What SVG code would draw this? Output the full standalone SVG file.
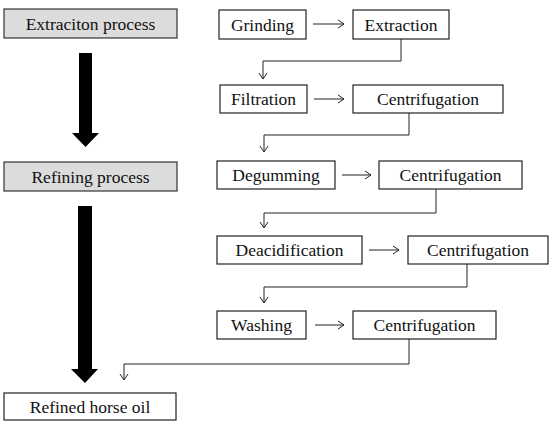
<svg xmlns="http://www.w3.org/2000/svg" width="554" height="428" viewBox="0 0 554 428">
<defs>
<style>
.box{fill:#fff;stroke:#222;stroke-width:1.2}
.hdr{fill:#dcdcdc;stroke:#333;stroke-width:1.2}
.t{font-size:17.5px;fill:#111;text-anchor:middle}
.c{fill:none;stroke:#222;stroke-width:1}
.big{fill:#000}
</style>
<marker id="v" viewBox="0 0 10 10" refX="10" refY="5" markerWidth="10" markerHeight="10" markerUnits="userSpaceOnUse" orient="auto">
<path d="M4,1 L10,5 L4,9" fill="none" stroke="#222" stroke-width="1"/>
</marker>
</defs>
<rect width="554" height="428" fill="#fff"/>
<g font-family="Liberation Serif">
<g id="extraction-process"><rect class="hdr" x="4" y="9" width="173" height="29"/><text class="t" font-family="Liberation Serif" x="90.5" y="29.5">Extraciton process</text></g>
<g id="refining-process"><rect class="hdr" x="4" y="162" width="173" height="29"/><text class="t" font-family="Liberation Serif" x="90.5" y="182.5">Refining process</text></g>
<g id="refined-horse-oil"><rect class="box" x="4" y="393" width="172" height="27"/><text class="t" font-family="Liberation Serif" x="90" y="412.5">Refined horse oil</text></g>
<g id="grinding"><rect class="box" x="219" y="10" width="87" height="29"/><text class="t" font-family="Liberation Serif" x="262.5" y="30.5">Grinding</text></g>
<g id="extraction"><rect class="box" x="353" y="10" width="96" height="29"/><text class="t" font-family="Liberation Serif" x="401" y="30.5">Extraction</text></g>
<g id="filtration"><rect class="box" x="220" y="85" width="87" height="28"/><text class="t" font-family="Liberation Serif" x="263.5" y="105">Filtration</text></g>
<g id="centrifugation1"><rect class="box" x="353" y="85" width="150" height="28"/><text class="t" font-family="Liberation Serif" x="428" y="105">Centrifugation</text></g>
<g id="degumming"><rect class="box" x="217" y="161" width="118" height="28"/><text class="t" font-family="Liberation Serif" x="276" y="181">Degumming</text></g>
<g id="centrifugation2"><rect class="box" x="379" y="161" width="143" height="28"/><text class="t" font-family="Liberation Serif" x="450.5" y="181">Centrifugation</text></g>
<g id="deacidification"><rect class="box" x="217" y="236" width="145" height="28"/><text class="t" font-family="Liberation Serif" x="289.5" y="256">Deacidification</text></g>
<g id="centrifugation3"><rect class="box" x="408" y="236" width="140" height="28"/><text class="t" font-family="Liberation Serif" x="478" y="256">Centrifugation</text></g>
<g id="washing"><rect class="box" x="217" y="311" width="89" height="28"/><text class="t" font-family="Liberation Serif" x="261.5" y="331">Washing</text></g>
<g id="centrifugation4"><rect class="box" x="353" y="311" width="143" height="28"/><text class="t" font-family="Liberation Serif" x="424.5" y="331">Centrifugation</text></g>
</g>
<g id="connectors">
<path class="big" d="M79,53 H92 V133 H99 L85.5,147 L72,133 H79 Z"/>
<path class="big" d="M78,206 H92 V369 H98 L85,383 L71,369 H78 Z"/>
<path class="c" d="M313,24 H344" marker-end="url(#v)"/>
<path class="c" d="M314,99 H344" marker-end="url(#v)"/>
<path class="c" d="M342,175 H371" marker-end="url(#v)"/>
<path class="c" d="M369,250 H399" marker-end="url(#v)"/>
<path class="c" d="M315,325 H344" marker-end="url(#v)"/>
<path class="c" d="M401,39 V61 H263 V79" marker-end="url(#v)"/>
<path class="c" d="M409,113 V135 H264 V152" marker-end="url(#v)"/>
<path class="c" d="M436,189 V213 H264 V228" marker-end="url(#v)"/>
<path class="c" d="M467,264 V287 H264 V303" marker-end="url(#v)"/>
<path class="c" d="M409,339 V364 H124 V380" marker-end="url(#v)"/>
</g>
</svg>
